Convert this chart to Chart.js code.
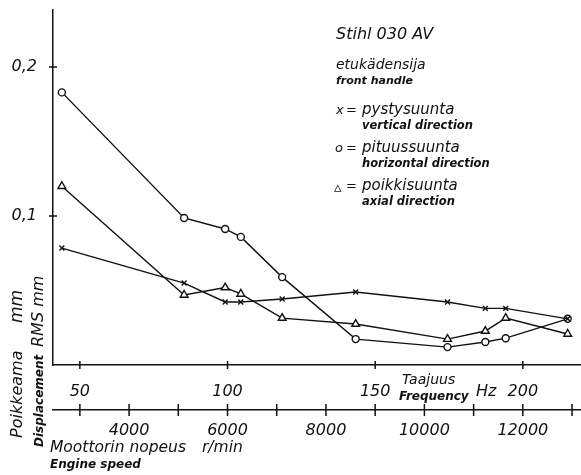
<!DOCTYPE html>
<html>
<head>
<meta charset="utf-8">
<script src="https://cdn.jsdelivr.net/npm/chart.js@4.4.1/dist/chart.umd.min.js"></script>
<style>
  html, body { margin: 0; padding: 0; background: #fff; }
  #wrap { width: 581px; height: 475px; position: relative; }
</style>
</head>
<body>
<div id="wrap"><canvas id="chart"></canvas></div>
<script>
// Frequencies (Hz) where the three directions were measured
const freqHz = [43.9, 85.3, 99.2, 104.5, 118.5, 143.4, 174.5, 187.3, 194.2, 215.2];

// Displacement RMS, mm
const pystysuunta = [0.0785, 0.055, 0.0423, 0.0423, 0.0443, 0.049, 0.0423, 0.038, 0.038, 0.031];
const pituussuunta = [0.183, 0.0987, 0.0913, 0.086, 0.059, 0.0174, 0.012, 0.0154, 0.018, 0.031];
const poikkisuunta = [0.12, 0.047, 0.052, 0.0477, 0.0315, 0.0275, 0.0174, 0.0228, 0.0315, 0.0208];

// Tick values
const yTicks = [0.1, 0.2];
const hzTicks = [50, 100, 150, 200];
const rpmTicks = [3000, 4000, 5000, 6000, 7000, 8000, 9000, 10000, 11000, 12000, 13000];
const rpmLabels = [4000, 6000, 8000, 10000, 12000];

const HZ_MIN = 40.9;
const HZ_MAX = 219.7;
const Y_MAX = 0.2383;

const INK = '#111';
const FONT = "'DejaVu Sans', sans-serif";

function toPoints(values) {
  return values.map((v, i) => ({ x: freqHz[i], y: v }));
}

// no extra room for tick labels at the ends of the axes
function noPadding(scale) {
  scale.paddingLeft = 0;
  scale.paddingRight = 0;
  scale.paddingTop = 0;
  scale.paddingBottom = 0;
}

// Crossing tick marks on the three axes
const crossTicks = {
  id: 'crossTicks',
  afterDraw(chart) {
    const { ctx, scales } = chart;
    ctx.save();
    ctx.strokeStyle = INK;
    ctx.lineWidth = 1.5;
    ctx.beginPath();
    hzTicks.forEach((v) => {
      const x = scales.x.getPixelForValue(v);
      ctx.moveTo(x, scales.x.top - 4);
      ctx.lineTo(x, scales.x.top + 4);
    });
    rpmTicks.forEach((v) => {
      const x = scales.rpm.getPixelForValue(v);
      ctx.moveTo(x, scales.rpm.top - 6);
      ctx.lineTo(x, scales.rpm.top + 6);
    });
    yTicks.forEach((v) => {
      const y = scales.y.getPixelForValue(v);
      ctx.moveTo(scales.y.right - 4, y);
      ctx.lineTo(scales.y.right + 4, y);
    });
    ctx.stroke();
    ctx.restore();
  },
};

// Labels and the key written on the drawing
const annotations = {
  id: 'annotations',
  afterDraw(chart) {
    const { ctx } = chart;
    const text = (s, x, y, size, weight) => {
      ctx.font = `italic ${weight || 'normal'} ${size}px ${FONT}`;
      ctx.fillText(s, x, y);
    };
    ctx.save();
    ctx.fillStyle = INK;
    ctx.textBaseline = 'middle';
    ctx.textAlign = 'left';

    // key
    text('Stihl 030 AV', 336, 35, 16);
    text('etukädensija', 336, 65, 14);
    text('front handle', 336, 81, 11, 'bold');
    text('x', 336, 111, 13);
    text('=', 346, 111, 13);
    text('pystysuunta', 362, 110, 15);
    text('vertical direction', 362, 126, 11.5, 'bold');
    text('o', 335, 149, 13);
    text('=', 346, 149, 13);
    text('pituussuunta', 362, 148, 15);
    text('horizontal direction', 362, 164, 11.5, 'bold');
    text('\u25B5', 334, 188, 15, 'bold');
    text('=', 346, 187, 13);
    text('poikkisuunta', 362, 186, 15);
    text('axial direction', 362, 202, 11.5, 'bold');

    // frequency axis
    text('Taajuus', 402, 380, 14);
    text('Frequency', 399, 397, 12, 'bold');
    text('Hz', 476, 392, 16);

    // engine speed axis
    text('Moottorin nopeus', 50, 448, 15.5);
    text('r/min', 202, 448, 15.5);
    text('Engine speed', 50, 465, 12, 'bold');

    // vertical axis title
    ctx.translate(18, 0);
    ctx.rotate(-Math.PI / 2);
    text('Poikkeama', -438, 0, 16);
    text('mm', -323, 0, 17);
    ctx.rotate(Math.PI / 2);
    ctx.translate(21, 0);
    ctx.rotate(-Math.PI / 2);
    text('Displacement', -447, 1, 12, 'bold');
    text('RMS mm', -347, 0, 16);
    ctx.restore();
  },
};

const seriesStyle = {
  borderColor: INK,
  borderWidth: 1.4,
  pointBorderColor: INK,
  pointBackgroundColor: '#fff',
  pointBorderWidth: 1.4,
  tension: 0,
  fill: false,
};

new Chart(document.getElementById('chart'), {
  type: 'line',
  data: {
    datasets: [
      {
        ...seriesStyle,
        label: 'x = pystysuunta',
        data: toPoints(pystysuunta),
        pointStyle: 'crossRot',
        pointRadius: 3.5,
      },
      {
        ...seriesStyle,
        label: 'o = pituussuunta',
        data: toPoints(pituussuunta),
        pointStyle: 'circle',
        pointRadius: 3.5,
      },
      {
        ...seriesStyle,
        label: '\u25B3 = poikkisuunta',
        data: toPoints(poikkisuunta),
        pointStyle: 'triangle',
        pointRadius: 4.5,
      },
    ],
  },
  options: {
    responsive: true,
    maintainAspectRatio: false,
    animation: false,
    layout: {
      autoPadding: false,
      padding: { top: 10, right: 0, bottom: 0, left: 0 },
    },
    plugins: {
      legend: { display: false },
      tooltip: { enabled: false },
    },
    scales: {
      x: {
        type: 'linear',
        position: 'bottom',
        weight: 0,
        min: HZ_MIN,
        max: HZ_MAX,
        afterBuildTicks: (scale) => {
          scale.ticks = hzTicks.map((v) => ({ value: v }));
        },
        afterFit: (scale) => {
          scale.height = 45;
          noPadding(scale);
        },
        ticks: {
          padding: 9,
          maxRotation: 0,
          color: INK,
          font: { family: FONT, size: 16, style: 'italic' },
        },
        grid: { display: false },
        border: { display: true, color: INK, width: 1.5 },
      },
      rpm: {
        type: 'linear',
        position: 'bottom',
        weight: 1,
        min: HZ_MIN * 60,
        max: HZ_MAX * 60,
        afterBuildTicks: (scale) => {
          scale.ticks = rpmTicks.map((v) => ({ value: v }));
        },
        afterFit: (scale) => {
          scale.height = 65;
          noPadding(scale);
        },
        ticks: {
          padding: 3,
          maxRotation: 0,
          autoSkip: false,
          color: INK,
          font: { family: FONT, size: 16, style: 'italic' },
          callback: (v) => (rpmLabels.includes(v) ? String(v) : ''),
        },
        grid: { display: false },
        border: { display: true, color: INK, width: 1.5 },
      },
      y: {
        type: 'linear',
        position: 'left',
        min: 0,
        max: Y_MAX,
        afterBuildTicks: (scale) => {
          scale.ticks = yTicks.map((v) => ({ value: v }));
        },
        afterFit: (scale) => {
          scale.width = 53;
          noPadding(scale);
        },
        ticks: {
          padding: 8,
          color: INK,
          font: { family: FONT, size: 16, style: 'italic' },
          callback: (v) => v.toFixed(1).replace('.', ','),
        },
        grid: { display: false },
        border: { display: true, color: INK, width: 1.5 },
      },
    },
  },
  plugins: [crossTicks, annotations],
});
</script>
</body>
</html>
